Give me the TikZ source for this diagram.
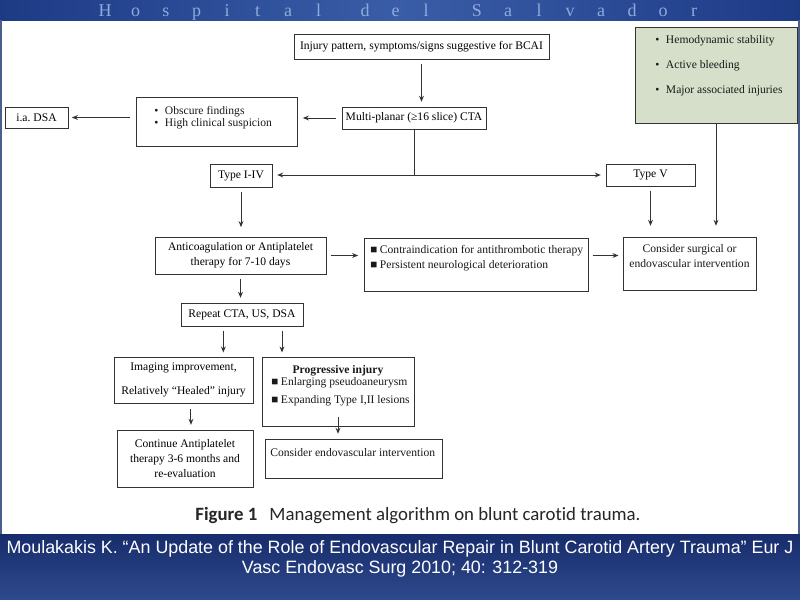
\documentclass[tikz,border=0pt]{standalone}
\usepackage{fontspec}
\setmainfont{Liberation Serif}
\newfontfamily\reffont{Liberation Sans}
\newfontfamily\capfont[Ligatures=NoCommon]{Carlito}
\usetikzlibrary{arrows.meta,calc}
\newcommand\diagsize{\fontsize{8.7}{11.3}\selectfont}
\definecolor{hdrdark}{HTML}{1D3A85}
\definecolor{hdrmid}{HTML}{3A5DA8}
\definecolor{hdrtxt}{HTML}{8FAADC}
\definecolor{bandtop}{HTML}{172C6C}
\definecolor{bandbot}{HTML}{2E4A8C}
\definecolor{greenfill}{HTML}{D5DFCA}
\definecolor{edge}{HTML}{333333}
\definecolor{framec}{HTML}{4A5F8A}
\begin{document}
\begin{tikzpicture}[x=0.75pt,y=-0.75pt,
  box/.style={draw=edge,line width=0.75pt,fill=white,inner sep=0pt,align=center,font=\diagsize},
  sz/.style 2 args={minimum width=#1*0.75pt,minimum height=#2*0.75pt},
  txt/.style={inner sep=0pt,font=\diagsize,align=left,text=black!90},
  arr/.style={draw=edge,line width=0.75pt,-{Stealth[length=4.5pt,width=3.6pt]},shorten >=3.5pt,shorten <=3pt},
  ln/.style={draw=edge,line width=0.75pt},
  hdr/.style={inner sep=0pt,text=hdrtxt,font=\fontsize{13.5}{14}\selectfont,anchor=base},
  reftxt/.style={inner sep=0pt,text=white,font=\reffont\fontsize{13.4}{15}\selectfont},
]
\useasboundingbox (0,0) rectangle (800,600);
\fill[white] (0,0) rectangle (800,600);
\shade[left color=hdrdark,right color=hdrdark,middle color=hdrmid] (0,0) rectangle (800,20);
\fill[framec] (0,20) rectangle (2,534);
\fill[framec] (798,20) rectangle (800,534);
\shade[top color=bandtop,bottom color=bandbot] (0,534) rectangle (800,600);
% header
\foreach \c [count=\i from 0] in {H,o,s,p,i,t,a,l}
  \node[hdr] (ha\i) at (105+30.5*\i,16) {\c};
\foreach \c [count=\i from 0] in {d,e,l}
  \node[hdr] (hb\i) at (365+30.5*\i,16) {\c};
\foreach \c [count=\i from 0] in {S,a,l,v,a,d,o,r}
  \node[hdr] (hc\i) at (477+31*\i,16) {\c};
% boxes
\node[box,sz={255}{25}] (inj) at (421.5,46.5) {Injury pattern, symptoms/signs suggestive for BCAI};
\node[box,sz={144}{22}] (cta) at (414,118) {Multi-planar (≥16 slice) CTA};
\node[box,sz={161}{49}] (obs) at (216.5,121.5) {};
\node[txt,anchor=west] (obst) at (154,117.5) {\textbullet\hspace{5pt}Obscure findings\\[-2pt]\textbullet\hspace{5pt}High clinical suspicion};
\node[box,sz={63}{21}] (dsa) at (36.5,117.5) {i.a.\ DSA};
\node[box,sz={62}{23}] (t14) at (241,175.5) {Type I-IV};
\node[box,sz={89}{22}] (t5) at (650.5,175) {Type V};
\node[box,fill=greenfill,sz={162}{96}] (grn) at (716,75) {};
\node[txt,anchor=west] (grnt) at (655,66) {\textbullet\hspace{5pt}Hemodynamic stability\\[7.4pt]\textbullet\hspace{5pt}Active bleeding\\[7.4pt]\textbullet\hspace{5pt}Major associated injuries};
\node[box,sz={171}{37}] (anti) at (240.5,255.5) {Anticoagulation or Antiplatelet\\therapy for 7-10 days};
\node[box,sz={224}{53}] (contra) at (476,264.5) {};
\node[txt,anchor=west] (contrat) at (370,258.5) {■\hspace{2pt}Contraindication for antithrombotic therapy\\■\hspace{2pt}Persistent neurological deterioration};
\node[box,sz={133}{53}] (cons) at (689.5,263.5) {};
\node[txt,align=center,anchor=north] (const) at ($(cons.north)+(0,8)$) {Consider surgical or\\endovascular intervention};
\node[box,sz={122}{23}] (rep) at (242,314.5) {Repeat CTA, US, DSA};
\node[box,sz={139}{46}] (img) at (183.5,380) {Imaging improvement,\\[7pt]Relatively “Healed” injury};
\node[box,sz={152}{69}] (prog) at (338,391.5) {};
\node[txt,anchor=center] (progt) at (338,371) {\textbf{Progressive injury}};
\node[txt,anchor=north west] (progb) at (271,377) {■\hspace{2pt}Enlarging pseudoaneurysm\\[2.5pt]■\hspace{2pt}Expanding Type I,II lesions};
\node[box,sz={136}{57}] (cont) at (185,458.5) {Continue Antiplatelet\\therapy 3-6 months and\\re-evaluation};
\node[box,sz={177}{39}] (cend) at (353.5,458.5) {};
\node[txt,anchor=west] (cendt) at (270,453) {Consider endovascular intervention};
% connectors
\draw[arr] (inj.south) -- (inj.south |- cta.north);
\draw[arr,shorten <=4.5pt,shorten >=4pt] (cta.west) -- (cta.west -| obs.east);
\draw[arr,shorten <=4.5pt,shorten >=2.5pt] (obs.west |- dsa.east) -- (dsa.east);
\coordinate (jn) at (cta.south |- t5.west);
\draw[ln] (cta.south) -- (jn);
\draw[arr,shorten <=0pt] (jn) -- (jn -| t14.east);
\draw[arr,shorten <=0pt] (jn) -- (jn -| t5.west);
\draw[arr,shorten >=7pt] (t14.south) -- (t14.south |- anti.north);
\draw[arr,shorten >=8pt] (t5.south) -- (t5.south |- cons.north);
\draw[arr,shorten >=8pt,shorten <=0pt] (grn.south) -- (grn.south |- cons.north);
\draw[arr,shorten <=3pt,shorten >=4pt] (anti.east) -- (anti.east -| contra.west);
\draw[arr,shorten <=3pt,shorten >=3pt] (contra.east |- anti.east) -- (cons.west |- anti.east);
\draw[arr] (anti.south) -- (anti.south |- rep.north);
\draw[arr,shorten >=3pt] ([xshift=-14pt]rep.south) -- ([xshift=-14pt]rep.south |- img.north);
\draw[arr,shorten >=3pt] ([xshift=30pt]rep.south) -- ([xshift=30pt]rep.south |- prog.north);
\draw[arr,shorten <=4pt] ([xshift=5.6pt]img.south) -- ([xshift=5.6pt]img.south |- cont.north);
\draw[arr,shorten <=-7.5pt] (prog.south) -- (prog.south |- cend.north);
% caption and reference
\node[inner sep=0pt,font=\capfont\fontsize{14.1}{16}\selectfont,text=black!85] (cap) at (418,516) {\textbf{Figure 1}\hspace{9pt}Management algorithm on blunt carotid trauma.};
\node[reftxt] (ref1) at (400,549) {Moulakakis K. “An Update of the Role of Endovascular Repair in Blunt Carotid Artery Trauma” Eur J};
\node[reftxt] (ref2) at (400,569) {Vasc Endovasc Surg 2010; 40: 312-319};
\end{tikzpicture}
\end{document}
